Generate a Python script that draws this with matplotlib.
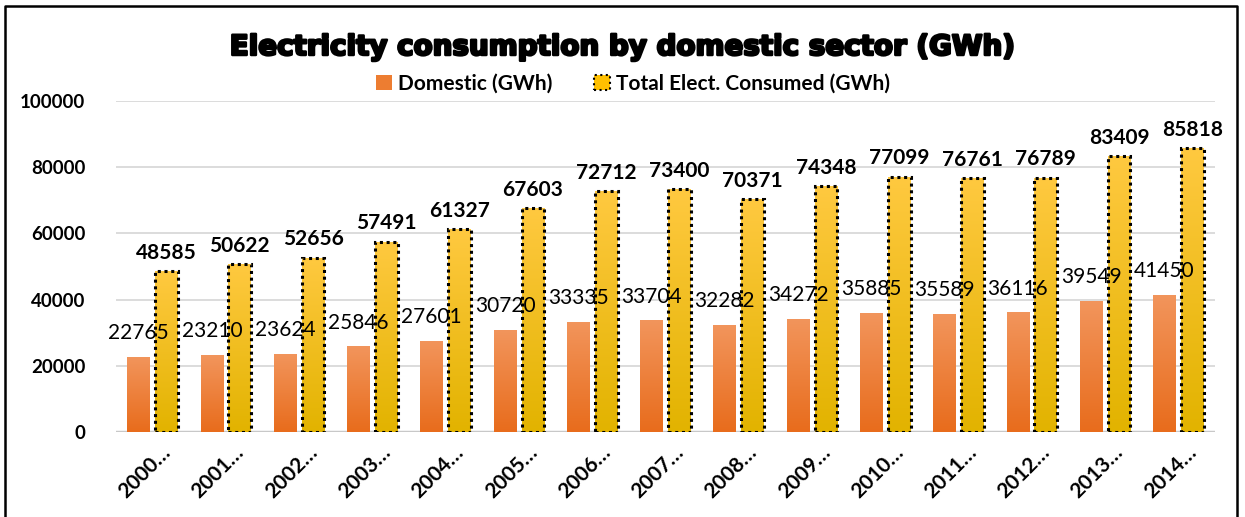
import numpy as np
import matplotlib.pyplot as plt
from matplotlib.colors import LinearSegmentedColormap
from matplotlib.patches import Patch
from matplotlib.lines import Line2D
import matplotlib.patheffects as pe
import matplotlib.transforms as mtransforms

# Electricity data, GWh
years = ["2000…", "2001…", "2002…", "2003…", "2004…", "2005…", "2006…", "2007…",
         "2008…", "2009…", "2010…", "2011…", "2012…", "2013…", "2014…"]
domestic = [22765, 23210, 23624, 25846, 27601, 30720, 33335, 33704,
            32282, 34272, 35885, 35589, 36116, 39549, 41450]
total = [48585, 50622, 52656, 57491, 61327, 67603, 72712, 73400,
         70371, 74348, 77099, 76761, 76789, 83409, 85818]

plt.rcParams['font.family'] = ['Lato', 'DejaVu Sans']

fig = plt.figure(figsize=(12.45, 5.17), dpi=100)
ax = fig.add_axes([116 / 1245, 85 / 517, 1099 / 1245, 331 / 517])

x = np.arange(len(years))
w = 0.31
off = 0.19

dom_bars = ax.bar(x - off, domestic, w, color='#ED7D31', zorder=3)
tot_bars = ax.bar(x + off, total, w, color='#FFC000', edgecolor='black',
                  linestyle=(0, (1, 1.2)), linewidth=2.2, zorder=3)


def fill_gradient(bars, top, bottom):
    cmap = LinearSegmentedColormap.from_list('g', [bottom, top])
    grad = np.linspace(0, 1, 256).reshape(-1, 1)
    for b in bars:
        x0, y0 = b.get_x(), b.get_y()
        im = ax.imshow(grad, cmap=cmap, origin='lower', aspect='auto',
                       extent=[x0, x0 + b.get_width(), y0, y0 + b.get_height()],
                       zorder=3.5)
        im.set_clip_path(b)


fill_gradient(dom_bars, '#F2955C', '#E86C1C')
fill_gradient(tot_bars, '#FFC940', '#E2B300')
# redraw dotted outlines over the gradient fill
for b in tot_bars:
    b.set_facecolor('none')
    b.set_zorder(4)

ax.set_xlim(-0.5, len(years) - 0.5)
ax.set_ylim(0, 100000)
ax.set_yticks(np.arange(0, 100001, 20000))
ax.yaxis.grid(True, color='#D9D9D9', linewidth=1.3, zorder=0)
ax.axhline(0, color='#C8C8C8', linewidth=2.5, zorder=2)
for s in ax.spines.values():
    s.set_visible(False)
ax.tick_params(length=0)
ax.tick_params(axis='y', labelsize=13.5, pad=22)
for t in ax.get_yticklabels():
    t.set_fontweight('bold')

ax.set_xticks(x)
ax.set_xticklabels(years, rotation=45, ha='right', va='top',
                   rotation_mode='anchor', fontsize=15, fontweight='bold')
shift = mtransforms.ScaledTranslation(8 / 100, -5 / 100, fig.dpi_scale_trans)
for t in ax.get_xticklabels():
    t.set_transform(t.get_transform() + shift)

for b, v in zip(dom_bars, domestic):
    ax.annotate(str(v), (b.get_x() + b.get_width() / 2, v), xytext=(0, 10),
                textcoords='offset points', ha='center', va='bottom',
                fontsize=15, zorder=6)
for b, v in zip(tot_bars, total):
    ax.annotate(str(v), (b.get_x() + b.get_width() / 2, v), xytext=(0, 6),
                textcoords='offset points', ha='center', va='bottom',
                fontsize=15, fontweight='bold', zorder=6)

fig.text(0.5, 1 - 47 / 517, 'Electricity consumption by domestic sector (GWh)',
         ha='center', va='center', fontsize=20, fontweight='bold',
         family='DejaVu Sans',
         path_effects=[pe.withStroke(linewidth=1.8, foreground='black')])

handles = [Patch(facecolor='#ED7D31'),
           Patch(facecolor='#FFC000', edgecolor='black', linestyle=':', linewidth=1.5)]
fig.legend(handles, ['Domestic (GWh)', 'Total Elect. Consumed (GWh)'],
           loc='center', bbox_to_anchor=(633 / 1245, 1 - 84 / 517), ncol=2,
           frameon=False, prop={'size': 15, 'weight': 'bold'},
           handlelength=0.75, handleheight=0.75, handletextpad=0.3, columnspacing=2.0)

# outer frame
fig.add_artist(Line2D([5 / 1245, 5 / 1245, 1237 / 1245, 1237 / 1245],
                      [0, 1 - 6 / 517, 1 - 6 / 517, 0],
                      transform=fig.transFigure, color='black', linewidth=1.8))

fig.savefig('out.png', dpi=100)
